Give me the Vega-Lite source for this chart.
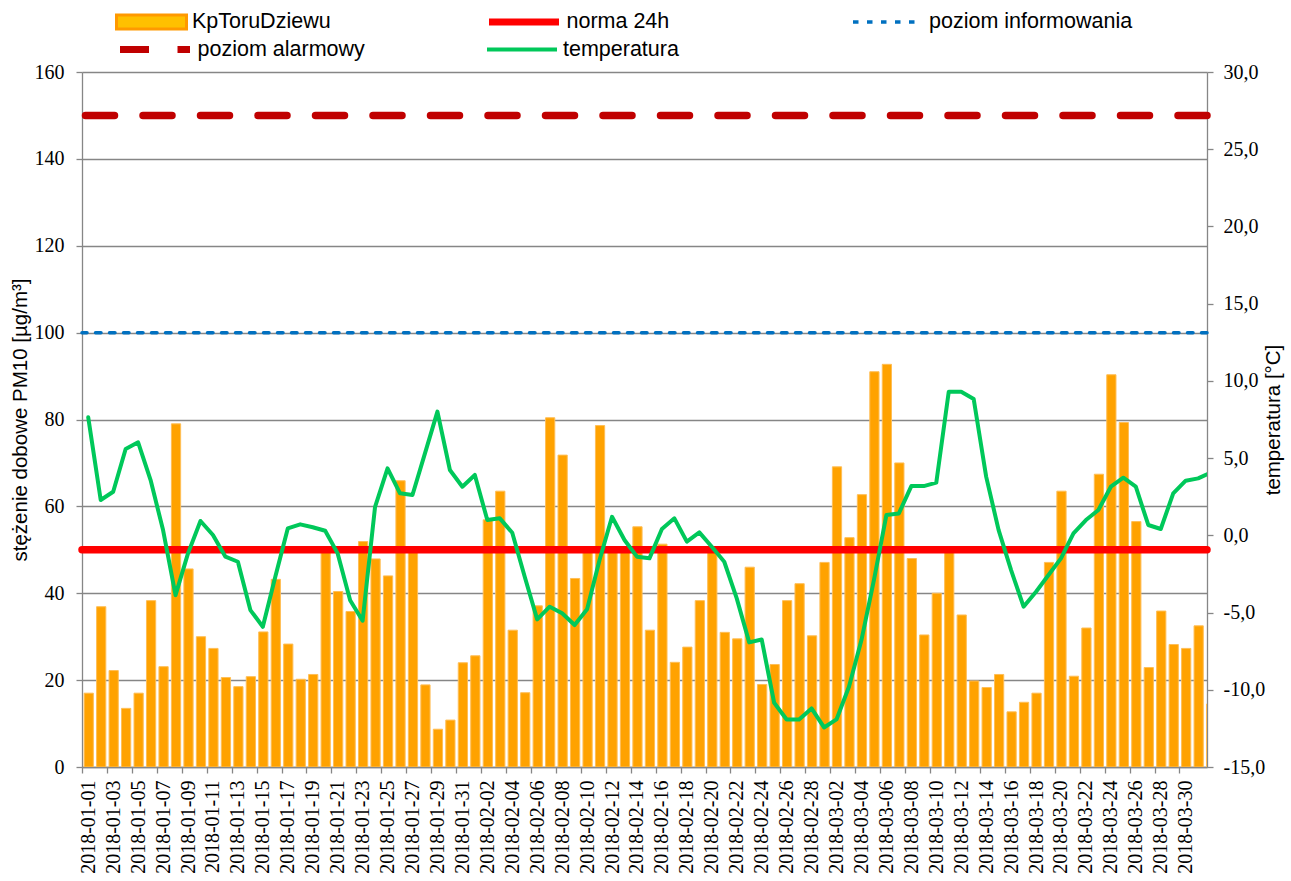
{
  "$schema": "https://vega.github.io/schema/vega-lite/v6.json",
  "width": 1125,
  "height": 695,
  "autosize": "none",
  "padding": {"left": 82, "top": 72, "right": 84, "bottom": 114},
  "background": "white",
  "config": {"view": {"stroke": null}, "font": "Liberation Sans",
    "legend": {"title": null, "orient": "none", "clipHeight": 21, "symbolSize": 4900, "symbolOffset": 0, "labelOffset": 4,
      "labelFont": "Liberation Sans", "labelFontSize": 21.5, "labelColor": "#000000", "labelLimit": 400, "padding": 0, "offset": 0, "symbolOpacity": 1}
  },
  "data": {"values": [
    {"date": "2018-01-01", "pm10": 17.0, "temp": 7.64},
    {"date": "2018-01-02", "pm10": 36.9, "temp": 2.29},
    {"date": "2018-01-03", "pm10": 22.2, "temp": 2.82},
    {"date": "2018-01-04", "pm10": 13.5, "temp": 5.59},
    {"date": "2018-01-05", "pm10": 17.0, "temp": 6.02},
    {"date": "2018-01-06", "pm10": 38.3, "temp": 3.58},
    {"date": "2018-01-07", "pm10": 23.1, "temp": 0.34},
    {"date": "2018-01-08", "pm10": 79.0, "temp": -3.87},
    {"date": "2018-01-09", "pm10": 45.6, "temp": -1.17},
    {"date": "2018-01-10", "pm10": 30.0, "temp": 0.93},
    {"date": "2018-01-11", "pm10": 27.3, "temp": 0.02},
    {"date": "2018-01-12", "pm10": 20.6, "temp": -1.38},
    {"date": "2018-01-13", "pm10": 18.5, "temp": -1.71},
    {"date": "2018-01-14", "pm10": 20.8, "temp": -4.84},
    {"date": "2018-01-15", "pm10": 31.1, "temp": -5.92},
    {"date": "2018-01-16", "pm10": 43.2, "temp": -2.68},
    {"date": "2018-01-17", "pm10": 28.3, "temp": 0.45},
    {"date": "2018-01-18", "pm10": 20.2, "temp": 0.71},
    {"date": "2018-01-19", "pm10": 21.3, "temp": 0.52},
    {"date": "2018-01-20", "pm10": 50.3, "temp": 0.30},
    {"date": "2018-01-21", "pm10": 40.4, "temp": -1.17},
    {"date": "2018-01-22", "pm10": 35.8, "temp": -4.20},
    {"date": "2018-01-23", "pm10": 51.9, "temp": -5.53},
    {"date": "2018-01-24", "pm10": 47.9, "temp": 1.85},
    {"date": "2018-01-25", "pm10": 44.0, "temp": 4.34},
    {"date": "2018-01-26", "pm10": 65.9, "temp": 2.72},
    {"date": "2018-01-27", "pm10": 50.1, "temp": 2.61},
    {"date": "2018-01-28", "pm10": 18.9, "temp": 5.31},
    {"date": "2018-01-29", "pm10": 8.7, "temp": 8.01},
    {"date": "2018-01-30", "pm10": 10.8, "temp": 4.23},
    {"date": "2018-01-31", "pm10": 24.0, "temp": 3.15},
    {"date": "2018-02-01", "pm10": 25.6, "temp": 3.91},
    {"date": "2018-02-02", "pm10": 56.9, "temp": 0.99},
    {"date": "2018-02-03", "pm10": 63.5, "temp": 1.10},
    {"date": "2018-02-04", "pm10": 31.5, "temp": 0.17},
    {"date": "2018-02-05", "pm10": 17.1, "temp": -2.68},
    {"date": "2018-02-06", "pm10": 37.1, "temp": -5.44},
    {"date": "2018-02-07", "pm10": 80.4, "temp": -4.62},
    {"date": "2018-02-08", "pm10": 71.8, "temp": -5.05},
    {"date": "2018-02-09", "pm10": 43.4, "temp": -5.81},
    {"date": "2018-02-10", "pm10": 50.2, "temp": -4.79},
    {"date": "2018-02-11", "pm10": 78.6, "temp": -1.60},
    {"date": "2018-02-12", "pm10": 50.4, "temp": 1.20},
    {"date": "2018-02-13", "pm10": 50.1, "temp": -0.30},
    {"date": "2018-02-14", "pm10": 55.3, "temp": -1.38},
    {"date": "2018-02-15", "pm10": 31.5, "temp": -1.49},
    {"date": "2018-02-16", "pm10": 51.3, "temp": 0.41},
    {"date": "2018-02-17", "pm10": 24.1, "temp": 1.10},
    {"date": "2018-02-18", "pm10": 27.6, "temp": -0.41},
    {"date": "2018-02-19", "pm10": 38.3, "temp": 0.19},
    {"date": "2018-02-20", "pm10": 50.2, "temp": -0.74},
    {"date": "2018-02-21", "pm10": 31.0, "temp": -1.71},
    {"date": "2018-02-22", "pm10": 29.5, "temp": -4.08},
    {"date": "2018-02-23", "pm10": 46.0, "temp": -6.93},
    {"date": "2018-02-24", "pm10": 19.0, "temp": -6.74},
    {"date": "2018-02-25", "pm10": 23.6, "temp": -10.84},
    {"date": "2018-02-26", "pm10": 38.3, "temp": -11.92},
    {"date": "2018-02-27", "pm10": 42.2, "temp": -11.92},
    {"date": "2018-02-28", "pm10": 30.2, "temp": -11.21},
    {"date": "2018-03-01", "pm10": 47.1, "temp": -12.44},
    {"date": "2018-03-02", "pm10": 69.1, "temp": -11.92},
    {"date": "2018-03-03", "pm10": 52.8, "temp": -9.80},
    {"date": "2018-03-04", "pm10": 62.7, "temp": -6.78},
    {"date": "2018-03-05", "pm10": 91.0, "temp": -2.90},
    {"date": "2018-03-06", "pm10": 92.7, "temp": 1.31},
    {"date": "2018-03-07", "pm10": 70.0, "temp": 1.42},
    {"date": "2018-03-08", "pm10": 48.0, "temp": 3.19},
    {"date": "2018-03-09", "pm10": 30.4, "temp": 3.19},
    {"date": "2018-03-10", "pm10": 40.0, "temp": 3.41},
    {"date": "2018-03-11", "pm10": 50.3, "temp": 9.30},
    {"date": "2018-03-12", "pm10": 35.0, "temp": 9.30},
    {"date": "2018-03-13", "pm10": 19.8, "temp": 8.83},
    {"date": "2018-03-14", "pm10": 18.3, "temp": 3.80},
    {"date": "2018-03-15", "pm10": 21.3, "temp": 0.34},
    {"date": "2018-03-16", "pm10": 12.7, "temp": -2.25},
    {"date": "2018-03-17", "pm10": 14.9, "temp": -4.62},
    {"date": "2018-03-18", "pm10": 17.0, "temp": -3.65},
    {"date": "2018-03-19", "pm10": 47.1, "temp": -2.57},
    {"date": "2018-03-20", "pm10": 63.5, "temp": -1.49},
    {"date": "2018-03-21", "pm10": 20.9, "temp": 0.13},
    {"date": "2018-03-22", "pm10": 32.0, "temp": 0.99},
    {"date": "2018-03-23", "pm10": 67.4, "temp": 1.64},
    {"date": "2018-03-24", "pm10": 90.3, "temp": 3.15},
    {"date": "2018-03-25", "pm10": 79.3, "temp": 3.73},
    {"date": "2018-03-26", "pm10": 56.5, "temp": 3.15},
    {"date": "2018-03-27", "pm10": 22.9, "temp": 0.67},
    {"date": "2018-03-28", "pm10": 35.9, "temp": 0.41},
    {"date": "2018-03-29", "pm10": 28.2, "temp": 2.72},
    {"date": "2018-03-30", "pm10": 27.3, "temp": 3.54},
    {"date": "2018-03-31", "pm10": 32.5, "temp": 3.69},
    {"date": "2018-04-01", "pm10": 14.5, "temp": 3.95}
  ]},
  "layer": [
    {
      "layer": [
        {
          "mark": {"type": "bar", "clip": true, "filled": true, "fill": "#FFA200", "width": {"band": 0.74}, "binSpacing": 0, "stroke": "#FFBE55", "strokeWidth": 1},
          "encoding": {
            "x": {
              "field": "date", "timeUnit": "utcyearmonthdate", "type": "temporal",
              "scale": {"type": "utc", "domain": [1514764800000, 1522558800000], "clamp": true},
              "axis": {
                "values": [1514764800000,1514937600000,1515110400000,1515283200000,1515456000000,1515628800000,1515801600000,1515974400000,1516147200000,1516320000000,1516492800000,1516665600000,1516838400000,1517011200000,1517184000000,1517356800000,1517529600000,1517702400000,1517875200000,1518048000000,1518220800000,1518393600000,1518566400000,1518739200000,1518912000000,1519084800000,1519257600000,1519430400000,1519603200000,1519776000000,1519948800000,1520121600000,1520294400000,1520467200000,1520640000000,1520812800000,1520985600000,1521158400000,1521331200000,1521504000000,1521676800000,1521849600000,1522022400000,1522195200000,1522368000000],
                "tickCount": 500,
                "format": "%Y-%m-%d",
                "labelAngle": -90,
                "labelFont": "Liberation Serif", "labelFontSize": 20, "labelColor": "#000000",
                "labelOffset": 6.24, "labelPadding": 7,
                "labelOverlap": false, "labelFlush": false, "labelBound": false,
                "tickSize": 6, "tickColor": "#868686", "tickWidth": 1.3,
                "domainColor": "#868686", "domainWidth": 1.3,
                "grid": false, "title": null
              }
            },
            "y": {
              "field": "pm10", "type": "quantitative",
              "scale": {"domain": [0, 160], "nice": false},
              "axis": {
                "values": [0, 20, 40, 60, 80, 100, 120, 140, 160],
                "grid": true, "gridColor": "#868686", "gridWidth": 1.3,
                "domainColor": "#868686", "domainWidth": 1.3,
                "tickColor": "#868686", "tickSize": 6, "tickWidth": 1.3,
                "labelFont": "Liberation Serif", "labelFontSize": 20, "labelColor": "#000000", "labelPadding": 12,
                "title": "stężenie dobowe PM10 [µg/m³]",
                "titleFont": "Liberation Sans", "titleFontSize": 20.5, "titleFontWeight": "normal", "titleColor": "#000000",
                "titleX": -62, "titleY": 347.5, "titleAngle": 270, "titleAlign": "center", "titleBaseline": "middle"
              }
            },
            "color": {
              "datum": "KpToruDziewu", "type": "nominal",
              "scale": {"range": ["#FFC000"]},
              "legend": {"legendX": 33, "legendY": -60.5, "symbolType": "M-1,-0.2H1V0.2H-1Z", "symbolStrokeColor": "#FF9900", "symbolStrokeWidth": 3}
            }
          }
        },
        {
          "data": {"values": [{"name": "norma 24h", "value": 50}]},
          "mark": {"type": "rule", "strokeWidth": 7.5, "strokeCap": "round"},
          "encoding": {
            "y": {"field": "value", "type": "quantitative"},
            "color": {"field": "name", "type": "nominal", "scale": {"range": ["#FF0000"]},
              "legend": {"legendX": 403.5, "legendY": -60.5, "symbolType": "stroke", "symbolStrokeWidth": 7}}
          }
        },
        {
          "data": {"values": [{"name": "poziom informowania", "value": 100}]},
          "mark": {"type": "rule", "strokeWidth": 3.5, "strokeCap": "round", "strokeDash": [5.5, 8.5]},
          "encoding": {
            "y": {"field": "value", "type": "quantitative"},
            "color": {"field": "name", "type": "nominal", "scale": {"range": ["#0070C0"]},
              "legend": {"legendX": 769, "legendY": -60.5, "symbolType": "stroke", "symbolStrokeWidth": 3.5, "symbolDash": [5.5, 8.5]}}
          }
        },
        {
          "data": {"values": [{"name": "poziom alarmowy", "value": 150}]},
          "mark": {"type": "rule", "strokeWidth": 7.5, "strokeCap": "round", "strokeDash": [29, 28.5]},
          "encoding": {
            "y": {"field": "value", "type": "quantitative"},
            "color": {"field": "name", "type": "nominal", "scale": {"range": ["#C00000"]},
              "legend": {"legendX": 34.5, "legendY": -33, "symbolType": "stroke", "symbolStrokeWidth": 7, "symbolDash": [29, 28.5]}}
          }
        }
      ],
      "resolve": {"scale": {"color": "independent"}}
    },
    {
      "mark": {"type": "line", "strokeWidth": 4, "clip": true, "strokeJoin": "round", "strokeCap": "round"},
      "encoding": {
        "x": {"field": "date", "timeUnit": "utcyearmonthdate", "type": "temporal", "bandPosition": 0.5},
        "y": {
          "field": "temp", "type": "quantitative",
          "scale": {"domain": [-15, 30], "nice": false, "zero": false},
          "axis": {
            "orient": "right",
            "values": [-15, -10, -5, 0, 5, 10, 15, 20, 25, 30],
            "labelExpr": "replace((datum.value < 0 ? '-' : '') + format(abs(datum.value), '.1f'), '.', ',')",
            "grid": false,
            "domainColor": "#868686", "domainWidth": 1.3,
            "tickColor": "#868686", "tickSize": 6, "tickWidth": 1.3,
            "labelFont": "Liberation Serif", "labelFontSize": 20, "labelColor": "#000000", "labelPadding": 10,
            "title": "temperatura [°C]",
            "titleFont": "Liberation Sans", "titleFontSize": 20.5, "titleFontWeight": "normal", "titleColor": "#000000",
            "titleX": 66, "titleY": 347.5, "titleAngle": 270, "titleAlign": "center", "titleBaseline": "middle"
          }
        },
        "color": {"datum": "temperatura", "type": "nominal", "scale": {"range": ["#00C85A"]},
          "legend": {"legendX": 403, "legendY": -33, "symbolType": "stroke", "symbolStrokeWidth": 4}}
      }
    }
  ],
  "resolve": {"scale": {"y": "independent", "color": "independent"}}
}
